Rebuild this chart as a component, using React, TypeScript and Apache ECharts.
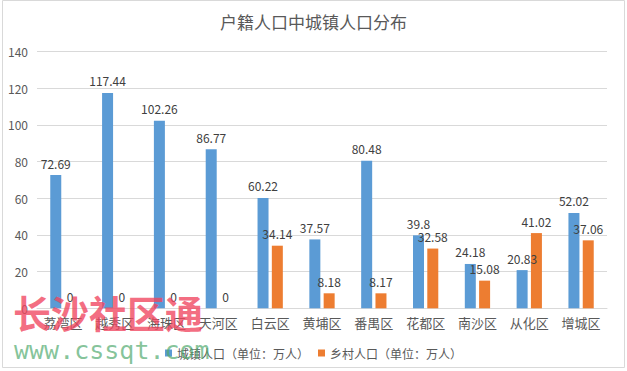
import React, { useEffect, useRef } from "react";
import * as echarts from "echarts";

const categories = ["荔湾区", "越秀区", "海珠区", "天河区", "白云区", "黄埔区", "番禺区", "花都区", "南沙区", "从化区", "增城区"];
const urban = [72.69, 117.44, 102.26, 86.77, 60.22, 37.57, 80.48, 39.8, 24.18, 20.83, 52.02];
const rural = [0, 0, 0, 0, 34.14, 8.18, 8.17, 32.58, 15.08, 41.02, 37.06];
const seriesNames = ["城镇人口（单位：万人）", "乡村人口（单位：万人）"];
const titleText = "户籍人口中城镇人口分布";

const FONT = "'Noto Sans CJK SC', 'Microsoft YaHei', sans-serif";

export default function App() {
  const ref = useRef<HTMLDivElement>(null);
  useEffect(() => {
    document.body.style.margin = "0";
    if (!ref.current) return;
    const chart = echarts.init(ref.current, null, { renderer: "svg" });
    const label = {
      show: true,
      position: "top",
      distance: 6,
      color: "#404040",
      fontSize: 12,
      fontFamily: FONT,
    };
    chart.setOption({
      animation: false,
      backgroundColor: "#ffffff",
      textStyle: { fontFamily: FONT },
      title: {
        text: titleText,
        left: "center",
        top: 8,
        textStyle: { fontSize: 17, fontWeight: "normal", color: "#595959", fontFamily: FONT },
      },
      legend: {
        top: 342,
        left: "center",
        itemWidth: 7,
        itemHeight: 7,
        itemGap: 9,
        icon: "rect",
        textStyle: { fontSize: 12, color: "#595959", fontFamily: FONT },
        data: seriesNames,
      },
      grid: { left: 37, right: 20, top: 51.6, bottom: 62.7, containLabel: false },
      xAxis: {
        type: "category",
        data: categories,
        axisLine: { lineStyle: { color: "#d9d9d9" } },
        axisTick: { show: false },
        axisLabel: { fontSize: 13, color: "#595959", margin: 8, fontFamily: FONT },
      },
      yAxis: {
        type: "value",
        min: 0,
        max: 140,
        interval: 20,
        axisLine: { show: false },
        axisTick: { show: false },
        axisLabel: { fontSize: 12, color: "#595959", margin: 9, fontFamily: FONT },
        splitLine: { lineStyle: { color: "#d9d9d9" } },
      },
      series: [
        {
          name: seriesNames[0],
          type: "bar",
          data: urban,
          barWidth: 11,
          barGap: "30%",
          itemStyle: { color: "#5b9bd5" },
          label,
        },
        {
          name: seriesNames[1],
          type: "bar",
          data: rural,
          barWidth: 11,
          barGap: "30%",
          itemStyle: { color: "#ed7d31" },
          label,
        },
      ],
      graphic: [
        {
          type: "rect",
          shape: { x: 2.5, y: 0.5, width: 622, height: 367 },
          style: { fill: "none", stroke: "#d9d9d9", lineWidth: 1 },
          silent: true,
        },
        {
          type: "text",
          left: 13,
          top: 292,
          z: 100,
          style: {
            text: "长沙社区通",
            fontSize: 38,
            fontWeight: "bold",
            fill: "rgba(240,70,95,0.78)",
            fontFamily: FONT,
          },
        },
        {
          type: "text",
          left: 14,
          top: 338,
          z: 100,
          style: {
            text: "www.cssqt.com",
            fontSize: 25,
            fill: "rgba(80,170,110,0.7)",
            fontFamily: "'DejaVu Sans Mono', monospace",
          },
        },
      ],
    });
    return () => chart.dispose();
  }, []);
  return <div ref={ref} style={{ width: 627, height: 371 }} />;
}
